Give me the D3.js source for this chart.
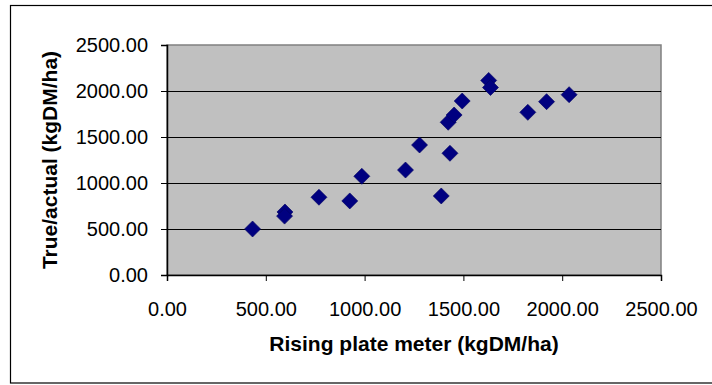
<!DOCTYPE html>
<html>
<head>
<meta charset="utf-8">
<script src="https://cdn.jsdelivr.net/npm/d3@7"></script>
<style>
  html, body { margin: 0; padding: 0; background: #fff; }
  svg { display: block; font-family: "Liberation Sans", Arial, sans-serif; }
</style>
</head>
<body>
<svg id="chart" width="712" height="385"></svg>
<script>
// Data
const risingPlate = [433, 597, 595, 769, 925, 986, 1207, 1278, 1388, 1432, 1423, 1453, 1494, 1628, 1637, 1826, 1921, 2035];
const trueActual  = [500, 685, 640, 845, 805, 1073, 1141, 1413, 859, 1323, 1660, 1739, 1891, 2115, 2038, 1768, 1884, 1960];
const xTicks = [0, 500, 1000, 1500, 2000, 2500];
const yTicks = [0, 500, 1000, 1500, 2000, 2500];
const xTitle = "Rising plate meter (kgDM/ha)";
const yTitle = "True/actual (kgDM/ha)";

const W = 712, H = 385;
const margin = { left: 167, right: 51, top: 45, bottom: 110 };
const svg = d3.select("#chart");

// outer chart border (right side falls outside the window)
svg.append("rect")
  .attr("x", 10.5).attr("y", 5.5)
  .attr("width", 720).attr("height", 377.5)
  .attr("fill", "#fff").attr("stroke", "#000").attr("stroke-width", 1.2);

const x = d3.scaleLinear().domain([0, 2500]).range([margin.left, W - margin.right]);
const y = d3.scaleLinear().domain([0, 2500]).range([H - margin.bottom, margin.top]);

// plot area
svg.append("rect")
  .attr("x", x(0)).attr("y", y(2500))
  .attr("width", x(2500) - x(0)).attr("height", y(0) - y(2500))
  .attr("fill", "#c0c0c0").attr("stroke", "#808080").attr("stroke-width", 1.5);

// gridlines
svg.append("g").selectAll("line")
  .data(yTicks.filter(d => d > 0 && d < 2500))
  .join("line")
  .attr("x1", x(0)).attr("x2", x(2500))
  .attr("y1", d => Math.round(y(d)) + 0.5).attr("y2", d => Math.round(y(d)) + 0.5)
  .attr("stroke", "#000").attr("stroke-width", 1.2);

const fmt = d3.format(".2f");

// y axis
const yAxis = svg.append("g")
  .attr("transform", `translate(${x(0)},0)`)
  .call(d3.axisLeft(y).tickValues(yTicks).tickFormat(fmt).tickSize(6).tickPadding(13));
yAxis.select(".domain").attr("stroke", "#000").attr("stroke-width", 1.5);
yAxis.selectAll(".tick line").attr("stroke", "#000");
yAxis.selectAll("text").attr("font-size", 20).attr("fill", "#000")
  .attr("font-family", "Liberation Sans, Arial, sans-serif");

// x axis
const xAxis = svg.append("g")
  .attr("transform", `translate(0,${y(0)})`)
  .call(d3.axisBottom(x).tickValues(xTicks).tickFormat(fmt).tickSize(6).tickPadding(21));
xAxis.select(".domain").attr("stroke", "#000").attr("stroke-width", 1.5);
xAxis.selectAll(".tick line").attr("stroke", "#000");
xAxis.selectAll("text").attr("font-size", 20).attr("fill", "#000")
  .attr("font-family", "Liberation Sans, Arial, sans-serif");

// points (diamonds)
const pts = risingPlate.map((v, i) => ({ x: v, y: trueActual[i] }));
const sym = d3.symbol().type(d3.symbolSquare).size(128);
svg.append("g").selectAll("path")
  .data(pts)
  .join("path")
  .attr("d", sym)
  .attr("transform", d => `translate(${x(d.x)},${y(d.y)}) rotate(45)`)
  .attr("fill", "#000080")
  .attr("stroke", "#000060").attr("stroke-width", 0.6);

// axis titles
svg.append("text")
  .attr("x", (x(0) + x(2500)) / 2).attr("y", 351)
  .attr("text-anchor", "middle")
  .attr("font-size", 21).attr("font-weight", "bold").attr("fill", "#000")
  .text(xTitle);

svg.append("text")
  .attr("transform", `translate(57,${(y(0) + y(2500)) / 2}) rotate(-90)`)
  .attr("text-anchor", "middle")
  .attr("font-size", 21).attr("font-weight", "bold").attr("fill", "#000")
  .text(yTitle);
</script>
</body>
</html>
